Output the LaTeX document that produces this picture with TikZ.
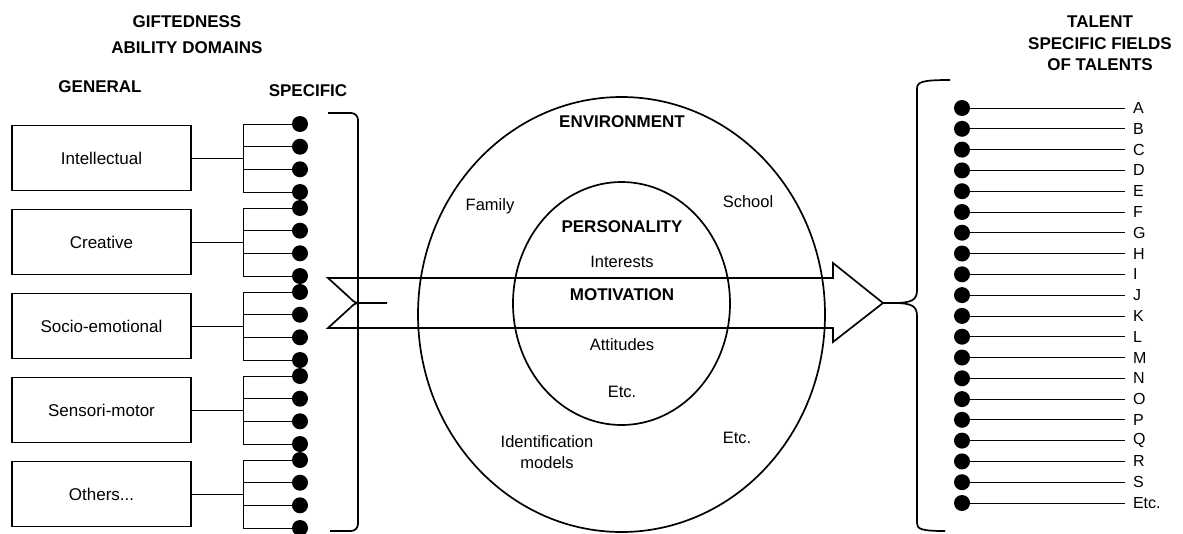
\documentclass[tikz,border=0pt]{standalone}
\usepackage{fontspec}
\setsansfont{Liberation Sans}
\usepackage{tkz-graph}
\usetikzlibrary{arrows}
\usetikzlibrary{shapes}

\begin{document}
\begin{tikzpicture}[x = 1pt, y = -1pt, line width = 1.7pt, font=\sffamily]
	\tikzstyle{VertexStyle} = []
	\tikzstyle{EdgeStyle} = [draw]
	\tikzstyle{LabelStyle} = [fill = none, draw = none, inner sep = 0pt]
	\tikzstyle{boxStyle}=[shape = rectangle, minimum width = 179pt, minimum height = 65pt, draw, font = \sffamily\fontsize{17}{21}\selectfont]
	\tikzstyle{dotStyle}=[shape = circle, minimum size = 16pt, inner sep = 0pt, fill]
	\tikzstyle{titleStyle}=[align = center, font = \sffamily\bfseries\fontsize{17}{21.5}\selectfont]
	\tikzstyle{textStyle}=[align = center, font = \sffamily\fontsize{16.5}{21}\selectfont]
	\tikzstyle{letterStyle}=[anchor = west, inner xsep = 8pt, inner ysep = 1pt, font = \sffamily\fontsize{16}{18}\selectfont]
	\useasboundingbox (0,0) rectangle (1183,533);
	% headings
	\Vertex[style = titleStyle, x = 187, y = 35, L = {GIFTEDNESS\\[4.5pt]ABILITY DOMAINS}]{gifted}
	\Vertex[style = titleStyle, x = 100, y = 87, L = {GENERAL}]{general}
	\Vertex[style = titleStyle, x = 308, y = 91, L = {SPECIFIC}]{specific}
	\Vertex[style = titleStyle, x = 1100, y = 43.5, L = {TALENT\\SPECIFIC FIELDS\\OF TALENTS}]{talent}
	% general domains
	\Vertex[style = boxStyle, x = 101.5, y = 158, L = {Intellectual}]{g1}
	\Vertex[style = boxStyle, x = 101.5, y = 242, L = {Creative}]{g2}
	\Vertex[style = boxStyle, x = 101.5, y = 326, L = {Socio-emotional}]{g3}
	\Vertex[style = boxStyle, x = 101.5, y = 410, L = {Sensori-motor}]{g4}
	\Vertex[style = boxStyle, x = 101.5, y = 494, L = {Others...}]{g5}
	\coordinate (j1) at (243,158);
	\coordinate (j2) at (243,242);
	\coordinate (j3) at (243,326);
	\coordinate (j4) at (243,410);
	\coordinate (j5) at (243,494);
	\Edge(g1)(j1)
	\Edge(g2)(j2)
	\Edge(g3)(j3)
	\Edge(g4)(j4)
	\Edge(g5)(j5)
	% specific abilities
	\coordinate (l1) at (243,124);
	\coordinate (l2) at (243,146.7);
	\coordinate (l3) at (243,169.3);
	\coordinate (l4) at (243,192);
	\coordinate (l5) at (243,208);
	\coordinate (l6) at (243,230.7);
	\coordinate (l7) at (243,253.3);
	\coordinate (l8) at (243,276);
	\coordinate (l9) at (243,292);
	\coordinate (l10) at (243,314.7);
	\coordinate (l11) at (243,337.3);
	\coordinate (l12) at (243,360);
	\coordinate (l13) at (243,376);
	\coordinate (l14) at (243,398.7);
	\coordinate (l15) at (243,421.3);
	\coordinate (l16) at (243,444);
	\coordinate (l17) at (243,460);
	\coordinate (l18) at (243,482.7);
	\coordinate (l19) at (243,505.3);
	\coordinate (l20) at (243,528);
	\Vertex[style = dotStyle, x = 300, y = 124, NoLabel]{d1}
	\Vertex[style = dotStyle, x = 300, y = 146.7, NoLabel]{d2}
	\Vertex[style = dotStyle, x = 300, y = 169.3, NoLabel]{d3}
	\Vertex[style = dotStyle, x = 300, y = 192, NoLabel]{d4}
	\Vertex[style = dotStyle, x = 300, y = 208, NoLabel]{d5}
	\Vertex[style = dotStyle, x = 300, y = 230.7, NoLabel]{d6}
	\Vertex[style = dotStyle, x = 300, y = 253.3, NoLabel]{d7}
	\Vertex[style = dotStyle, x = 300, y = 276, NoLabel]{d8}
	\Vertex[style = dotStyle, x = 300, y = 292, NoLabel]{d9}
	\Vertex[style = dotStyle, x = 300, y = 314.7, NoLabel]{d10}
	\Vertex[style = dotStyle, x = 300, y = 337.3, NoLabel]{d11}
	\Vertex[style = dotStyle, x = 300, y = 360, NoLabel]{d12}
	\Vertex[style = dotStyle, x = 300, y = 376, NoLabel]{d13}
	\Vertex[style = dotStyle, x = 300, y = 398.7, NoLabel]{d14}
	\Vertex[style = dotStyle, x = 300, y = 421.3, NoLabel]{d15}
	\Vertex[style = dotStyle, x = 300, y = 444, NoLabel]{d16}
	\Vertex[style = dotStyle, x = 300, y = 460, NoLabel]{d17}
	\Vertex[style = dotStyle, x = 300, y = 482.7, NoLabel]{d18}
	\Vertex[style = dotStyle, x = 300, y = 505.3, NoLabel]{d19}
	\Vertex[style = dotStyle, x = 300, y = 528, NoLabel]{d20}
	\Edge(l1)(l4)
	\Edge(l5)(l8)
	\Edge(l9)(l12)
	\Edge(l13)(l16)
	\Edge(l17)(l20)
	\Edge(l1)(d1)
	\Edge(l2)(d2)
	\Edge(l3)(d3)
	\Edge(l4)(d4)
	\Edge(l5)(d5)
	\Edge(l6)(d6)
	\Edge(l7)(d7)
	\Edge(l8)(d8)
	\Edge(l9)(d9)
	\Edge(l10)(d10)
	\Edge(l11)(d11)
	\Edge(l12)(d12)
	\Edge(l13)(d13)
	\Edge(l14)(d14)
	\Edge(l15)(d15)
	\Edge(l16)(d16)
	\Edge(l17)(d17)
	\Edge(l18)(d18)
	\Edge(l19)(d19)
	\Edge(l20)(d20)
	\draw[rounded corners = 7pt] (328,113) -- (358,113) -- (358,531) -- (330,531);
	% environment and personality
	\draw (621.5,314.5) ellipse [x radius = 203.5pt, y radius = 217.5pt];
	\draw (621.5,303.5) ellipse [x radius = 108.5pt, y radius = 121.5pt];
	\Vertex[style = titleStyle, x = 622, y = 122, L = {ENVIRONMENT}]{env}
	\Vertex[style = textStyle, x = 490, y = 206, L = {Family}]{family}
	\Vertex[style = textStyle, x = 748, y = 202, L = {School}]{school}
	\Vertex[style = titleStyle, x = 622, y = 227, L = {PERSONALITY}]{pers}
	\Vertex[style = textStyle, x = 622, y = 262, L = {Interests}]{inter}
	\Vertex[style = titleStyle, x = 622, y = 295, L = {MOTIVATION}]{motiv}
	\Vertex[style = textStyle, x = 622, y = 345, L = {Attitudes}]{attit}
	\Vertex[style = textStyle, x = 622, y = 392, L = {Etc.}]{etcin}
	\Vertex[style = textStyle, x = 547, y = 452.5, L = {Identification\\models}]{ident}
	\Vertex[style = textStyle, x = 737, y = 438, L = {Etc.}]{etcout}
	% big arrow
	\draw (350,298) -- (328,278) -- (833,278) -- (833,263) -- (883,303) -- (833,342) -- (833,328) -- (328,328) -- (350,308);
	\draw (350,298) .. controls (355,303) .. (364,303) -- (387,303);
	\draw (350,308) .. controls (355,303) .. (364,303);
	\draw (883,303) -- (893,303) .. controls (912,303) and (917,300) .. (917,290) -- (917,89) .. controls (917,82) and (921,80) .. (950,80);
	\draw (893,303) .. controls (912,303) and (917,306) .. (917,316) -- (917,523) .. controls (917,529) and (921,531) .. (945,531);
	% specific fields of talents
	\Vertex[style = dotStyle, x = 962, y = 108.0, NoLabel]{r1}
	\Vertex[style = dotStyle, x = 962, y = 128.8, NoLabel]{r2}
	\Vertex[style = dotStyle, x = 962, y = 149.6, NoLabel]{r3}
	\Vertex[style = dotStyle, x = 962, y = 170.4, NoLabel]{r4}
	\Vertex[style = dotStyle, x = 962, y = 191.2, NoLabel]{r5}
	\Vertex[style = dotStyle, x = 962, y = 212.0, NoLabel]{r6}
	\Vertex[style = dotStyle, x = 962, y = 232.7, NoLabel]{r7}
	\Vertex[style = dotStyle, x = 962, y = 253.5, NoLabel]{r8}
	\Vertex[style = dotStyle, x = 962, y = 274.3, NoLabel]{r9}
	\Vertex[style = dotStyle, x = 962, y = 295.1, NoLabel]{r10}
	\Vertex[style = dotStyle, x = 962, y = 315.9, NoLabel]{r11}
	\Vertex[style = dotStyle, x = 962, y = 336.7, NoLabel]{r12}
	\Vertex[style = dotStyle, x = 962, y = 357.5, NoLabel]{r13}
	\Vertex[style = dotStyle, x = 962, y = 378.3, NoLabel]{r14}
	\Vertex[style = dotStyle, x = 962, y = 399.1, NoLabel]{r15}
	\Vertex[style = dotStyle, x = 962, y = 419.8, NoLabel]{r16}
	\Vertex[style = dotStyle, x = 962, y = 440.6, NoLabel]{r17}
	\Vertex[style = dotStyle, x = 962, y = 461.4, NoLabel]{r18}
	\Vertex[style = dotStyle, x = 962, y = 482.2, NoLabel]{r19}
	\Vertex[style = dotStyle, x = 962, y = 503.0, NoLabel]{r20}
	\Vertex[style = letterStyle, x = 1125, y = 108.0, L = {A}]{t1}
	\Vertex[style = letterStyle, x = 1125, y = 128.8, L = {B}]{t2}
	\Vertex[style = letterStyle, x = 1125, y = 149.6, L = {C}]{t3}
	\Vertex[style = letterStyle, x = 1125, y = 170.4, L = {D}]{t4}
	\Vertex[style = letterStyle, x = 1125, y = 191.2, L = {E}]{t5}
	\Vertex[style = letterStyle, x = 1125, y = 212.0, L = {F}]{t6}
	\Vertex[style = letterStyle, x = 1125, y = 232.7, L = {G}]{t7}
	\Vertex[style = letterStyle, x = 1125, y = 253.5, L = {H}]{t8}
	\Vertex[style = letterStyle, x = 1125, y = 274.3, L = {I}]{t9}
	\Vertex[style = letterStyle, x = 1125, y = 295.1, L = {J}]{t10}
	\Vertex[style = letterStyle, x = 1125, y = 315.9, L = {K}]{t11}
	\Vertex[style = letterStyle, x = 1125, y = 336.7, L = {L}]{t12}
	\Vertex[style = letterStyle, x = 1125, y = 357.5, L = {M}]{t13}
	\Vertex[style = letterStyle, x = 1125, y = 378.3, L = {N}]{t14}
	\Vertex[style = letterStyle, x = 1125, y = 399.1, L = {O}]{t15}
	\Vertex[style = letterStyle, x = 1125, y = 419.8, L = {P}]{t16}
	\Vertex[style = letterStyle, x = 1125, y = 440.6, L = {Q}]{t17}
	\Vertex[style = letterStyle, x = 1125, y = 461.4, L = {R}]{t18}
	\Vertex[style = letterStyle, x = 1125, y = 482.2, L = {S}]{t19}
	\Vertex[style = letterStyle, x = 1125, y = 503.0, L = {Etc.}]{t20}
	\Edge(r1)(t1)
	\Edge(r2)(t2)
	\Edge(r3)(t3)
	\Edge(r4)(t4)
	\Edge(r5)(t5)
	\Edge(r6)(t6)
	\Edge(r7)(t7)
	\Edge(r8)(t8)
	\Edge(r9)(t9)
	\Edge(r10)(t10)
	\Edge(r11)(t11)
	\Edge(r12)(t12)
	\Edge(r13)(t13)
	\Edge(r14)(t14)
	\Edge(r15)(t15)
	\Edge(r16)(t16)
	\Edge(r17)(t17)
	\Edge(r18)(t18)
	\Edge(r19)(t19)
	\Edge(r20)(t20)
\end{tikzpicture}
\end{document}
